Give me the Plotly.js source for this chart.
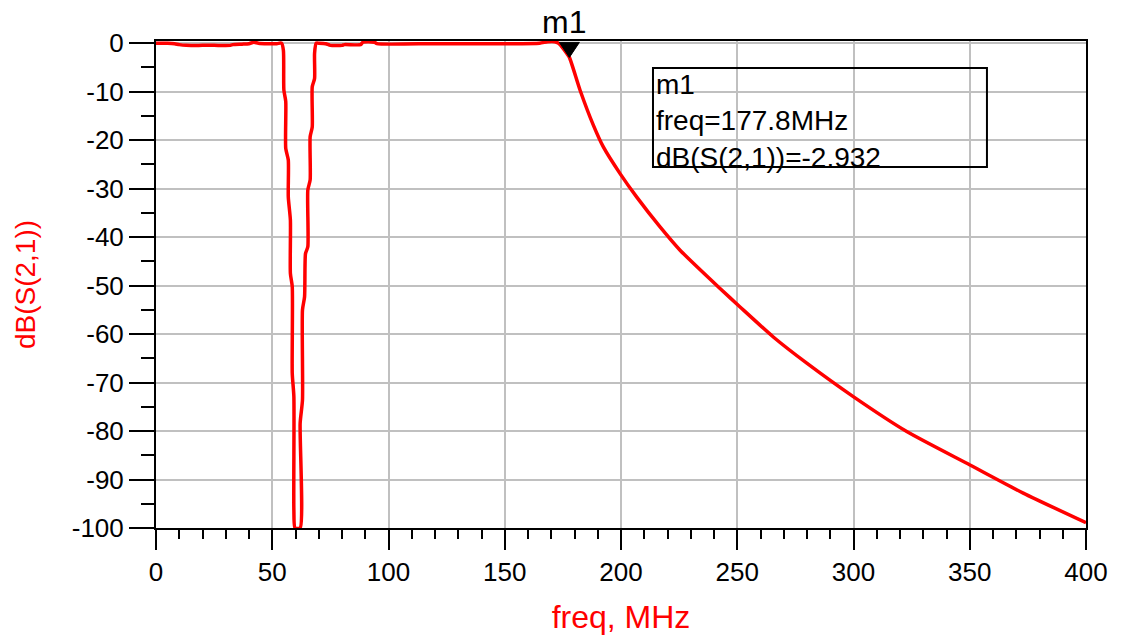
<!DOCTYPE html>
<html>
<head>
<meta charset="utf-8">
<script src="https://cdn.plot.ly/plotly-3.0.1.min.js"></script>
<style>html,body{margin:0;padding:0;background:#fff;}#chart{width:1121px;height:635px;}</style>
</head>
<body>
<div id="chart"></div>
<script>
// Frequency (MHz) and dB(S(2,1))
const freq = [
  0, 5, 8, 10, 13, 20, 25, 32, 33, 37, 40, 42, 44, 48, 52, 54,
  54.8, 55.0, 55.8, 55.8, 56.9, 56.9, 57.8, 57.8, 58.6, 58.6, 59.3, 59.3, 59.8,
  62.0, 62.0, 63.0, 63.0, 63.9, 64.3, 65.3, 65.3, 66.3, 66.3, 67.2, 67.2, 68.2, 68.2, 68.9,
  70, 73, 75, 80, 81, 88, 89, 94, 95, 120, 150, 165, 168.5, 171.5, 173,
  175, 176.6, 177.8, 182.4, 188.1, 192.4, 199.6, 206.7, 216.8, 225.4, 242.6,
  251.2, 265.5, 279.9, 299.9, 322.9, 350.1, 373.0, 400
];
const dbS21 = [
  0, 0, -0.1, -0.3, -0.45, -0.45, -0.45, -0.45, -0.3, -0.2, -0.1, 0.2, 0, -0.1, -0.1, 0,
  -1.5, -9.7, -12, -21.7, -24.1, -31.7, -36.5, -47.5, -50.2, -68.1, -72.9, -96.3, -100,
  -100, -78.4, -73.6, -55, -52.3, -43.4, -42, -30.3, -28.2, -19.3, -17.3, -9, -7.3, -2.1, 0,
  0, -0.1, -0.45, -0.45, -0.3, -0.3, 0.2, 0.2, -0.1, -0.1, -0.1, 0, 0.3, 0.3, 0,
  -1.0, -2.1, -2.932, -9.7, -16.9, -21.4, -26.9, -31.7, -37.9, -42.7, -50.6,
  -54.4, -60.6, -66.0, -72.9, -80.1, -87.0, -92.8, -98.9
];
// Marker m1
const m1Name = ['m1'];
const m1Freq = [177.8];
const m1dB = [-2.932];
// Tick values
const xTicks = [0, 50, 100, 150, 200, 250, 300, 350, 400];
const yTicks = [0, -10, -20, -30, -40, -50, -60, -70, -80, -90, -100];

const FONT = 'Liberation Sans, Arial, sans-serif';

const trace = {
  x: freq, y: dbS21, type: 'scatter', mode: 'lines',
  line: {color: '#ff0000', width: 3.5, shape: 'spline', smoothing: 0.6},
  hoverinfo: 'x+y', showlegend: false
};

const boxText = [
  m1Name[0],
  'freq=' + m1Freq[0] + 'MHz',
  'dB(S(2,1))=' + m1dB[0]
].join('<br>');

const annotations = [
  {x: m1Freq[0], y: m1dB[0], xref: 'x', yref: 'y', text: m1Name[0], showarrow: false,
   yanchor: 'bottom', xanchor: 'center', yshift: 15, xshift: -5,
   font: {family: FONT, size: 32, color: '#000'}},
  {x: 0.5355, y: 0.8357, xref: 'paper', yref: 'paper', text: boxText, showarrow: false,
   xanchor: 'left', yanchor: 'middle', align: 'left',
   font: {family: FONT, size: 28, color: '#000'}}
];

const layout = {
  width: 1121, height: 635,
  margin: {l: 156, r: 35, t: 41, b: 107, pad: 0},
  paper_bgcolor: '#ffffff', plot_bgcolor: '#ffffff',
  showlegend: false,
  xaxis: {
    range: [0, 400], tickvals: xTicks, ticktext: xTicks.map(String),
    ticks: 'outside', ticklen: 20, tickwidth: 2, tickcolor: '#000',
    showline: true, linecolor: '#000', linewidth: 2, mirror: true,
    showgrid: true, gridcolor: '#c0c0c0', gridwidth: 2, zeroline: false,
    tickfont: {family: FONT, size: 26, color: '#000'},
    minor: {dtick: 10, ticks: 'outside', ticklen: 9, tickwidth: 2, tickcolor: '#000', showgrid: false},
    title: {text: 'freq, MHz', font: {family: FONT, size: 32, color: '#ff0000'}, standoff: 20}
  },
  yaxis: {
    range: [-100, 0.45], tickvals: yTicks, ticktext: yTicks.map(String),
    ticks: 'outside', ticklen: 25, tickwidth: 2, tickcolor: '#000',
    showline: true, linecolor: '#000', linewidth: 2, mirror: true,
    showgrid: true, gridcolor: '#c0c0c0', gridwidth: 2, zeroline: false,
    tickfont: {family: FONT, size: 26, color: '#000'},
    minor: {dtick: 5, ticks: 'outside', ticklen: 13, tickwidth: 2, tickcolor: '#000', showgrid: false},
    title: {text: 'dB(S(2,1))', font: {family: FONT, size: 28, color: '#ff0000'}, standoff: 28}
  },
  shapes: [
    {type: 'path', xref: 'x', yref: 'y', xsizemode: 'pixel', ysizemode: 'pixel',
     xanchor: m1Freq[0], yanchor: m1dB[0], path: 'M -10,15 L 10,15 L 0,0 Z',
     fillcolor: '#000', line: {color: '#000', width: 1}, layer: 'above'},
    {type: 'rect', xref: 'paper', yref: 'paper', x0: 0.5344, x1: 0.8935, y0: 0.7413, y1: 0.9446,
     line: {color: '#000', width: 2}, fillcolor: 'rgba(0,0,0,0)', layer: 'above'}
  ],
  annotations: annotations
};

Plotly.newPlot('chart', [trace], layout, {displayModeBar: false, staticPlot: true});
</script>
</body>
</html>
